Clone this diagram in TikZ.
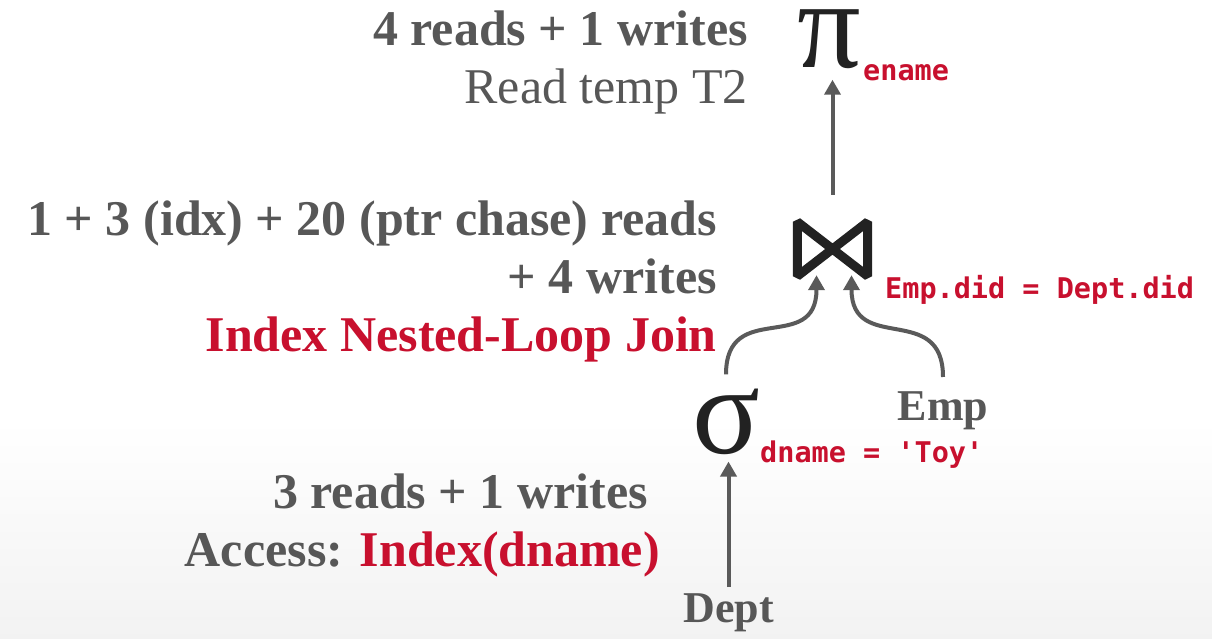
\documentclass[tikz,border=0pt]{standalone}
\usepackage{fontspec}
\setmainfont{Liberation Serif}
\newfontfamily\codefont{DejaVu Sans Mono}[Ligatures=TeXOff]
\usetikzlibrary{arrows.meta,calc}
\definecolor{ink}{HTML}{222222}
\definecolor{txtgray}{HTML}{575757}
\definecolor{accent}{HTML}{C8102E}
\definecolor{edgegray}{HTML}{5A5A5A}
\begin{document}
\begin{tikzpicture}[x=1pt,y=-1pt,
  cost/.style={anchor=base east, inner sep=0, text=txtgray,
    font=\fontsize{50}{60}\selectfont\bfseries},
  costlight/.style={cost, font=\fontsize{50}{60}\selectfont},
  algo/.style={cost, text=accent},
  relname/.style={anchor=base, inner sep=0, text=txtgray,
    font=\fontsize{44}{52}\selectfont\bfseries},
  opsym/.style={inner sep=0, text=ink, font=\fontsize{126}{130}\selectfont},
  pred/.style={anchor=base west, inner sep=0, text=accent,
    font=\fontsize{28.5}{32}\selectfont\codefont\bfseries},
  flow/.style={draw=edgegray, line width=4, -{Triangle[length=15,width=16]}},
]
% page and soft background
\fill[white] (0,0) rectangle (1212,638);
\shade[top color=white, bottom color=black!5] (0,420) rectangle (1212,638);
\useasboundingbox (0,0) rectangle (1212,638);

% cost annotations
\node[cost] (c1a) at (748,45) {4 reads + 1 writes};
\node[costlight] (c1b) at (748,103) {Read temp T2};
\node[cost] (c2a) at (717,235) {1 + 3 (idx) + 20 (ptr chase) reads};
\node[cost] (c2b) at (717,293) {+ 4 writes};
\node[algo] (c2c) at (717,351) {Index Nested-Loop Join};
\node[cost] (c3a) at (648,508) {3 reads + 1 writes};
\node[cost] (c3b) at (660,566) {Access: \textcolor{accent}{Index(dname)}};

% projection
\node[opsym] (pi) at (829,39) {π};
\node[pred] (piarg) at (863,80) {ename};

% join
\node[inner sep=0, minimum width=79, minimum height=62] (join) at (832.5,249) {};
\draw[ink, line width=9, line join=bevel]
  ($(join.north west)+(4.5,4)$) -- ($(join.south east)+(-4.5,-4)$) --
  ($(join.north east)+(-4.5,4)$) -- ($(join.south west)+(4.5,-4)$) -- cycle;
\node[pred] (jcond) at (885,298) {Emp.did = Dept.did};

% selection
\node[opsym] (sigma) at (726,421.5) {σ};
\node[pred] (sarg) at (760,462) {dname = {\char"27}Toy{\char"27}};

% base relations
\node[relname] (emp) at (943,420) {Emp};
\node[relname] (dept) at (728.5,622) {Dept};

% data flow
\coordinate (jl) at ($(join.south)+(-16,-5)$);
\coordinate (jr) at ($(join.south)+(19,-5)$);
\draw[flow, shorten <=23, shorten >=11] (join.north) -- (join.north |- pi.south);
\draw[flow, shorten <=6, shorten >=7] (dept.north) -- (dept.north |- sigma.south);
\draw[flow, shorten <=14] (sigma.north) .. controls +(0,-90) and +(0,80) .. (jl);
\draw[flow, shorten <=14] (emp.north) .. controls +(0,-90) and +(0,80) .. (jr);
\end{tikzpicture}
\end{document}
